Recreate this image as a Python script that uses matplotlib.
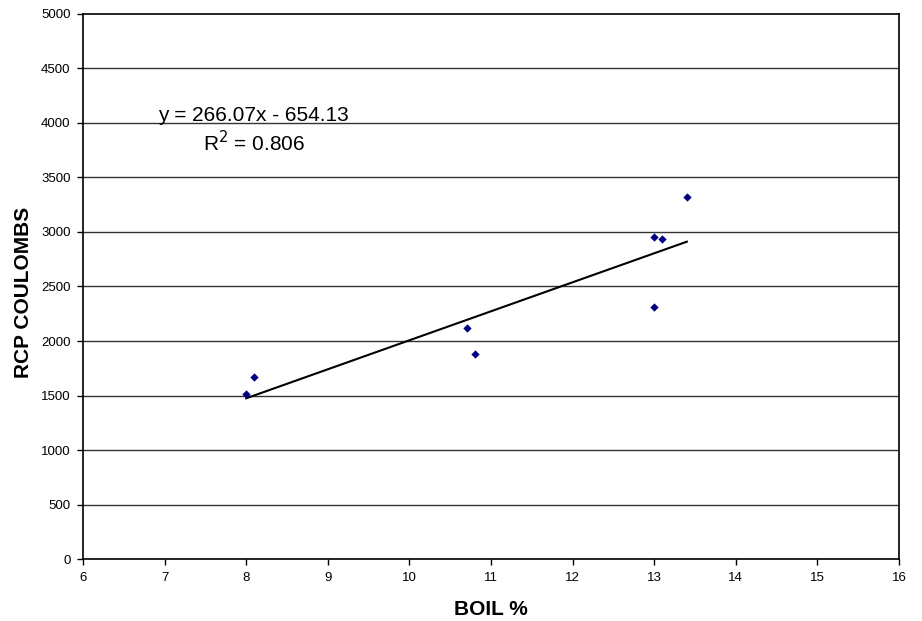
import matplotlib
matplotlib.use("Agg")
import matplotlib.pyplot as plt
import numpy as np

plt.rcParams['font.family'] = ['Liberation Sans', 'DejaVu Sans']

boil = [8.0, 8.1, 10.7, 10.8, 13.0, 13.1, 13.0, 13.4]
rcp = [1510, 1670, 2115, 1885, 2955, 2935, 2310, 3320]
slope = 266.07
intercept = -654.13
r2 = 0.806
x_ticks = list(range(6, 17))
y_ticks = list(range(0, 5001, 500))

fig = plt.figure(figsize=(9.22, 6.21), dpi=100)
ax = fig.add_axes([0.090, 0.0998, 0.8851, 0.8777])

for yv in y_ticks[1:-1]:
    ax.axhline(yv, color='#333333', lw=1.0, zorder=1)

ax.scatter(boil, rcp, marker='D', s=18, color='#000080', zorder=3, linewidths=0)

xfit = np.array([min(boil), max(boil)])
ax.plot(xfit, slope * xfit + intercept, color='black', lw=1.5, zorder=2)

ax.set_xlim(6, 16)
ax.set_ylim(0, 5000)
ax.set_xticks(x_ticks)
ax.set_yticks(y_ticks)
ax.tick_params(direction='out', length=4, width=1, labelsize=9.5, colors='black', pad=5)
for s in ax.spines.values():
    s.set_color('black')
    s.set_linewidth(1.2)

ax.set_xlabel('BOIL %', fontsize=15, fontweight='bold', labelpad=12)
ax.set_ylabel('RCP COULOMBS', fontsize=15, fontweight='bold')
ax.yaxis.set_label_coords(-0.061, 0.49)

ax.text(8.09, 4065, f'y = {slope:.2f}x - {abs(intercept):.2f}', fontsize=15,
        ha='center', va='center')
ax.text(8.10, 3820, f'R$^2$ = {r2:.3f}', fontsize=15, ha='center', va='center')

fig.savefig('out.png', dpi=100)
